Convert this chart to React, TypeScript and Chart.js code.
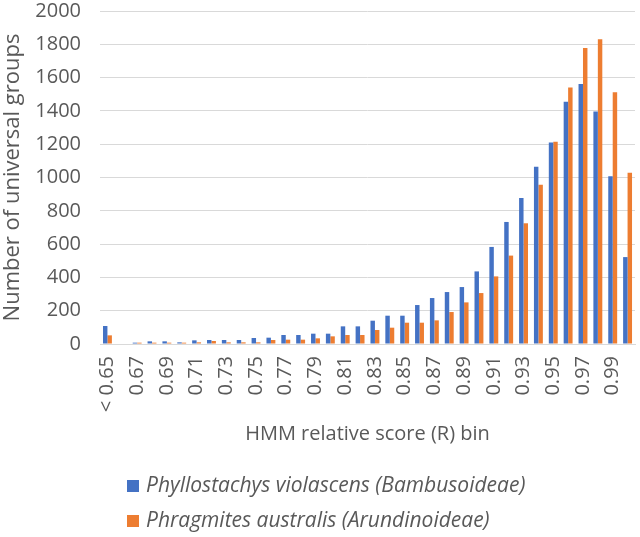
import { useEffect, useRef } from "react";
import { Chart, registerables } from "chart.js";

Chart.register(...registerables);

// HMM relative score bins (every other one is labelled on the axis)
const binLabels = [
  "< 0.65", "0.66", "0.67", "0.68", "0.69", "0.70", "0.71", "0.72", "0.73",
  "0.74", "0.75", "0.76", "0.77", "0.78", "0.79", "0.80", "0.81", "0.82",
  "0.83", "0.84", "0.85", "0.86", "0.87", "0.88", "0.89", "0.90", "0.91",
  "0.92", "0.93", "0.94", "0.95", "0.96", "0.97", "0.98", "0.99", "1.00",
];

// Number of universal groups per bin
const phyllostachys = [
  108, 0, 8, 16, 16, 10, 22, 24, 24, 24, 36, 38, 54, 54, 62, 62, 106, 106,
  140, 170, 170, 234, 276, 312, 342, 436, 583, 733, 877, 1065, 1210, 1455,
  1562, 1397, 1007, 522,
];
const phragmites = [
  52, 0, 8, 8, 8, 8, 10, 18, 10, 10, 10, 24, 26, 26, 34, 46, 54, 54, 84, 98,
  128, 128, 142, 192, 250, 306, 406, 531, 725, 957, 1215, 1540, 1778, 1830,
  1512, 1028,
];

const seriesNames = [
  "Phyllostachys violascens (Bambusoideae)",
  "Phragmites australis (Arundinoideae)",
];

const yMax = 2000;
const yStep = 200;

const FONT = "'Open Sans', 'Noto Sans', sans-serif";
const TEXT = "#595959";
const GRID = "#d9d9d9";
const BLUE = "#4472C4";
const ORANGE = "#ED7D31";

// Two-row legend below the axis title, left aligned
const stackedLegend = {
  id: "stackedLegend",
  afterDraw(chart: any) {
    const { ctx } = chart;
    ctx.save();
    ctx.font = `italic 21px ${FONT}`;
    ctx.textBaseline = "middle";
    ctx.textAlign = "left";
    chart.data.datasets.forEach((ds: any, i: number) => {
      const y = 486 + i * 35;
      ctx.fillStyle = ds.backgroundColor;
      ctx.fillRect(127, y - 6, 12, 12);
      ctx.fillStyle = TEXT;
      ctx.fillText(ds.label, 146, y);
    });
    ctx.restore();
  },
};

export default function App() {
  const canvasRef = useRef<HTMLCanvasElement | null>(null);

  useEffect(() => {
    document.body.style.margin = "0";
    const canvas = canvasRef.current;
    if (!canvas) return;
    const chart = new Chart(canvas, {
      type: "bar",
      data: {
        labels: binLabels,
        datasets: [
          { label: seriesNames[0], data: phyllostachys, backgroundColor: BLUE },
          { label: seriesNames[1], data: phragmites, backgroundColor: ORANGE },
        ],
      },
      plugins: [stackedLegend],
      options: {
        responsive: false,
        animation: false,
        devicePixelRatio: 1,
        layout: { padding: { left: 0, right: 5, top: 11, bottom: 91 } },
        datasets: { bar: { categoryPercentage: 0.6, barPercentage: 1 } },
        plugins: {
          legend: { display: false },
          tooltip: { enabled: false },
        },
        scales: {
          x: {
            grid: { display: false, drawTicks: false },
            border: { display: true, color: GRID, width: 1 },
            ticks: {
              autoSkip: false,
              minRotation: 90,
              maxRotation: 90,
              padding: 12,
              color: TEXT,
              font: { family: FONT, size: 20 },
              callback: (_v: any, i: number) => (i % 2 === 0 ? binLabels[i] : ""),
            },
            title: {
              display: true,
              text: "HMM relative score (R) bin",
              color: TEXT,
              font: { family: FONT, size: 20 },
              padding: 0,
            },
            afterFit: (s: any) => {
              s.height = 102;
              s.paddingLeft = 0;
              s.paddingRight = 0;
            },
          },
          y: {
            min: 0,
            max: yMax,
            grid: { color: GRID, drawTicks: false },
            border: { display: false },
            ticks: {
              stepSize: yStep,
              padding: 19,
              color: TEXT,
              font: { family: FONT, size: 20 },
              callback: (v: any) => String(v),
            },
            title: {
              display: true,
              text: "Number of universal groups",
              color: TEXT,
              font: { family: FONT, size: 22 },
              padding: { top: 0, bottom: 0 },
            },
            afterFit: (s: any) => {
              s.width = 100;
              s.paddingTop = 0;
              s.paddingBottom = 0;
            },
          },
        },
      },
    });
    return () => chart.destroy();
  }, []);

  return (
    <div style={{ width: 640, height: 537 }}>
      <canvas ref={canvasRef} width={640} height={537} />
    </div>
  );
}
